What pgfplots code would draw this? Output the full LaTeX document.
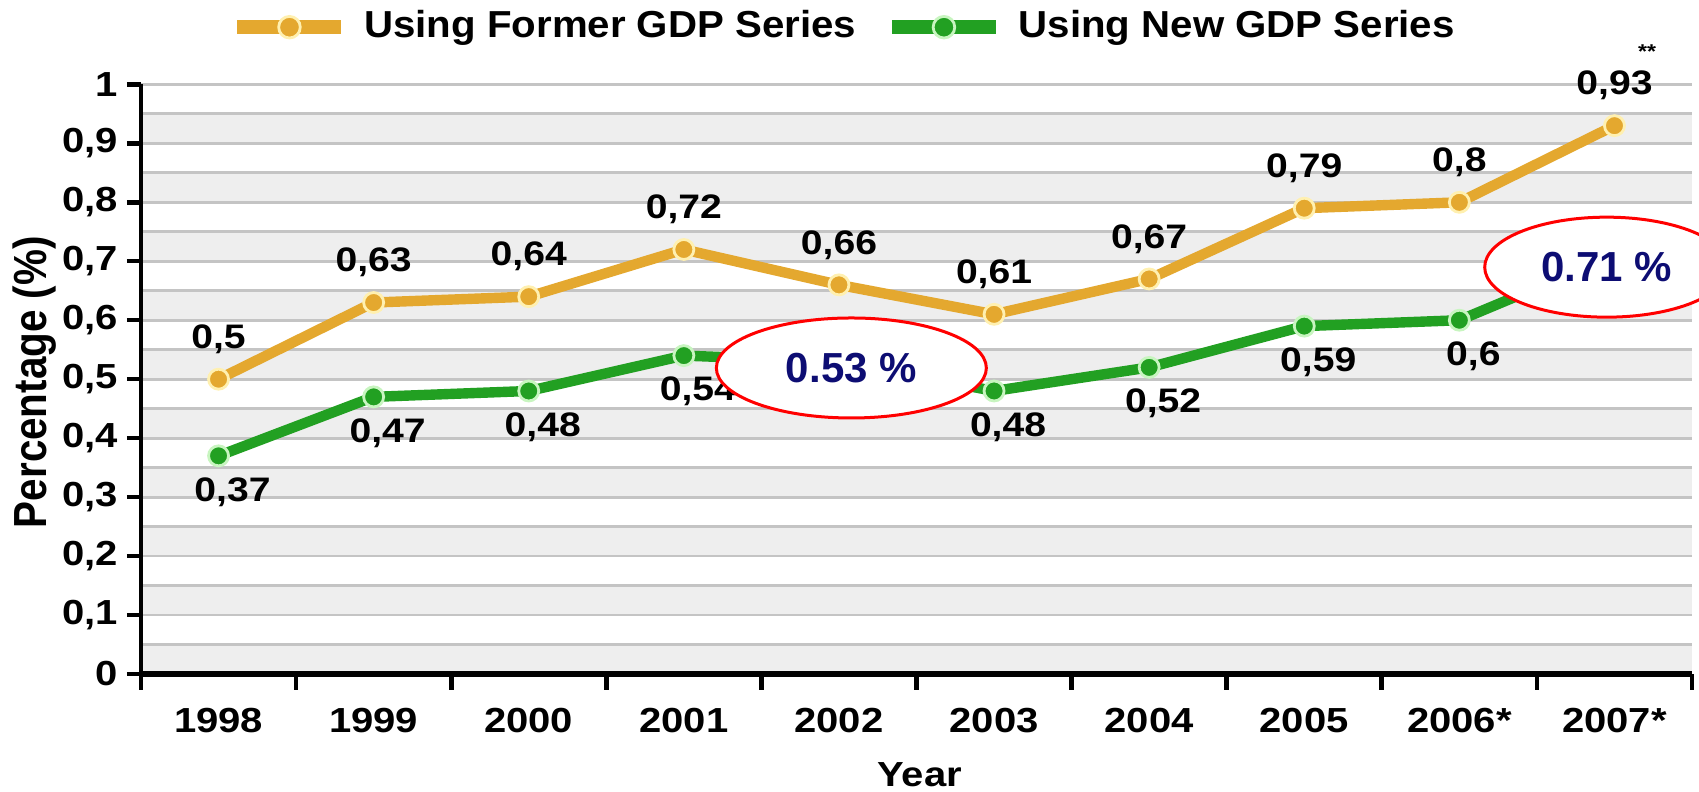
\documentclass[border=0pt]{standalone}
\usepackage{pgfplots}
\pgfplotsset{compat=1.18}
\usepackage{fontspec}
\setmainfont{Liberation Sans}
\newfontfamily\cf{Liberation Sans}[FakeStretch=1.15]
\newfontfamily\lf{Liberation Sans}[FakeStretch=1.07]
\usetikzlibrary{calc}
\definecolor{orng}{HTML}{E4A82F}
\definecolor{grn}{HTML}{22A022}
\definecolor{cream}{HTML}{FFF0B0}
\definecolor{lgrn}{HTML}{C8F5C0}
\definecolor{band}{HTML}{EEEEEE}
\definecolor{gridc}{HTML}{C4C4C4}
\definecolor{navy}{HTML}{0D0D73}
\begin{document}
\begin{tikzpicture}
\begin{axis}[
  name=ax, scale only axis, width=387.75pt, height=147.4pt,
  xmin=-0.5, xmax=9.5, ymin=0, ymax=1,
  clip=false, axis on top=true,
  axis lines*=left,
  axis line style={line width=1.1pt, black},
  x axis line style={line width=1.6pt},
  tick align=outside,
  xtick={0,1,2,3,4,5,6,7,8,9},
  xticklabels={1998,1999,2000,2001,2002,2003,2004,2005,2006*,2007*},
  minor xtick={-0.5,0.5,1.5,2.5,3.5,4.5,5.5,6.5,7.5,8.5,9.5},
  ytick={0,0.1,0.2,0.3,0.4,0.5,0.6,0.7,0.8,0.9,1},
  major tick length=3.5pt, minor tick length=4pt,
  every major x tick/.append style={draw=none},
  every minor x tick/.append style={line width=1.2pt, black},
  every major y tick/.append style={line width=1.1pt, black},
  /pgf/number format/use comma,
  /pgf/number format/assume math mode=true,
  ticklabel style={font=\cf\bfseries\fontsize{8.7}{10}\selectfont},
  xticklabel style={yshift=-1.5pt},
  yticklabel style={xshift=1.2pt},
  ylabel={\scalebox{1}[1.15]{Percentage (\%)}},
  every axis y label/.style={at={(axis description cs:0,0.495)}, xshift=-26.5pt, rotate=90, anchor=center, font=\bfseries\fontsize{10.1}{11}\selectfont},
  xlabel={Year},
  every axis x label/.style={at={(axis description cs:0.502,0)}, yshift=-25.25pt, anchor=center, font=\cf\bfseries\fontsize{8.7}{10}\selectfont},
  legend style={at={(0.455,1.097)}, anchor=center, draw=none, fill=none,
    font=\lf\bfseries\fontsize{9.4}{10}\selectfont,
    /tikz/every even column/.append style={column sep=5.25pt},
    /tikz/every odd column/.append style={column sep=2pt}},
  legend columns=2,
  legend image code/.code={\draw[#1, line width=3.4pt, mark size=2.7pt, mark repeat=2, mark phase=2] plot coordinates {(0pt,0pt) (13pt,0pt) (26pt,0pt)};},
]
% background bands
\fill[band] (axis cs:-0.5,0.0) rectangle (axis cs:9.5,0.05);
\fill[band] (axis cs:-0.5,0.1) rectangle (axis cs:9.5,0.15);
\fill[band] (axis cs:-0.5,0.2) rectangle (axis cs:9.5,0.25);
\fill[band] (axis cs:-0.5,0.3) rectangle (axis cs:9.5,0.35);
\fill[band] (axis cs:-0.5,0.4) rectangle (axis cs:9.5,0.45);
\fill[band] (axis cs:-0.5,0.5) rectangle (axis cs:9.5,0.55);
\fill[band] (axis cs:-0.5,0.6) rectangle (axis cs:9.5,0.65);
\fill[band] (axis cs:-0.5,0.7) rectangle (axis cs:9.5,0.75);
\fill[band] (axis cs:-0.5,0.8) rectangle (axis cs:9.5,0.85);
\fill[band] (axis cs:-0.5,0.9) rectangle (axis cs:9.5,0.95);
% grid lines
\pgfplotsinvokeforeach{0.05,0.1,0.15,0.2,0.25,0.3,0.35,0.4,0.45,0.5,0.55,0.6,0.65,0.7,0.75,0.8,0.85,0.9,0.95,1.0}{
  \draw[gridc, line width=0.7pt] (axis cs:-0.5,#1) -- (axis cs:9.5,#1);
}
\addplot[orng, line width=2.6pt, mark=*, mark size=2.5pt,
  mark options={fill=orng, draw=cream, line width=0.7pt},
  nodes near coords,
  every node near coord/.append style={font=\cf\bfseries\fontsize{8.5}{10}\selectfont, text=black, anchor=center, yshift=10pt}]
  coordinates {(0,0.5)(1,0.63)(2,0.64)(3,0.72)(4,0.66)(5,0.61)(6,0.67)(7,0.79)(8,0.8)(9,0.93)};
\addlegendentry{Using Former GDP Series}
\addplot[grn, line width=2.6pt, mark=*, mark size=2.5pt,
  mark options={fill=grn, draw=lgrn, line width=0.7pt}]
  coordinates {(0,0.37)(1,0.47)(2,0.48)(3,0.54)(4,0.53)(5,0.48)(6,0.52)(7,0.59)(8,0.6)(9,0.71)};
\addlegendentry{Using New GDP Series}
% value labels of the new series that are not hidden by the callouts
\addplot[draw=none, mark=none, forget plot,
  nodes near coords,
  every node near coord/.append style={font=\cf\bfseries\fontsize{8.5}{10}\selectfont, text=black, anchor=center, yshift=-9pt, xshift=3.5pt}]
  coordinates {(0,0.37)(1,0.47)(2,0.48)(3,0.54)(5,0.48)(6,0.52)(7,0.59)(8,0.6)};
\coordinate (e1) at (axis cs:4.08,0.519);
\coordinate (e2) at (axis cs:8.95,0.69);
\node[font=\cf\bfseries\fontsize{5}{6}\selectfont] at (axis cs:9.21,1.056) {**};
\end{axis}
% annotations on top of the plot
\begin{scope}
\clip (ax.south west) rectangle ($(ax.north east)+(1.75pt,0pt)$);
\draw[red, line width=0.75pt, fill=white] (e1) ellipse [x radius=33.75pt, y radius=12.5pt];
\draw[red, line width=0.75pt, fill=white] (e2) ellipse [x radius=30.5pt, y radius=12.5pt];
\end{scope}
\node[text=navy, font=\bfseries\fontsize{10.5}{12}\selectfont] at (e1) {0.53 \%};
\node[text=navy, font=\bfseries\fontsize{10.5}{12}\selectfont] at (e2) {0.71 \%};
\pgfresetboundingbox
\path[use as bounding box] ($(ax.south west)+(-35.25pt,-29.5pt)$) rectangle ($(ax.north east)+(1.75pt,21.1pt)$);
\end{tikzpicture}
\end{document}
